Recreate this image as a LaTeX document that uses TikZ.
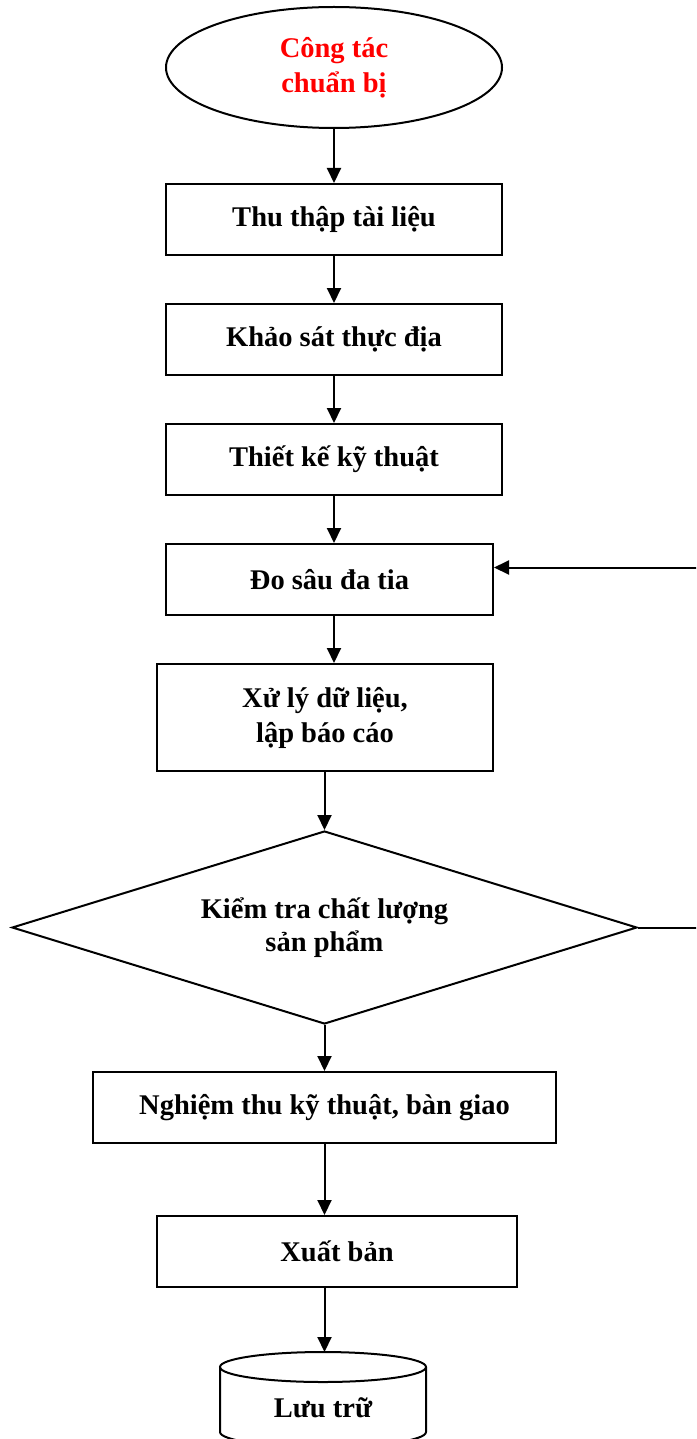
\documentclass[tikz,border=0pt]{standalone}
\usepackage{fontspec}
\setmainfont{Liberation Serif}
\usetikzlibrary{arrows.meta,shapes.geometric}
\tikzset{
  lbl/.style={font=\fontsize{28.5}{35}\selectfont\bfseries, align=center},
  stepbox/.style={draw, lbl, line width=2pt, inner sep=0pt, rectangle},
  flow/.style={line width=2pt, -{Triangle[length=15pt,width=14pt]}},
  plain/.style={line width=2pt}
}
\begin{document}
\begin{tikzpicture}[x=1pt,y=-1pt]
  \useasboundingbox (0,0) rectangle (696,1439);
  \clip (0,0) rectangle (696,1439);

  % start
  \node[draw, ellipse, line width=2pt, inner sep=0pt, minimum width=336, minimum height=121,
        lbl, text=red] (start) at (334,67.5) {Công tác\\chuẩn bị};

  % process steps
  \node[stepbox, minimum width=336, minimum height=71] (s1) at (334,219.5) {Thu thập tài liệu};
  \node[stepbox, minimum width=336, minimum height=71] (s2) at (334,339.5) {Khảo sát thực địa};
  \node[stepbox, minimum width=336, minimum height=71] (s3) at (334,459.5) {Thiết kế kỹ thuật};
  \node[stepbox, minimum width=327, minimum height=71] (s4) at (329.5,579.5) {Đo sâu đa tia};
  \node[stepbox, minimum width=336, minimum height=107] (s5) at (325,717.5) {Xử lý dữ liệu,\\lập báo cáo};

  % quality check
  \node[draw, diamond, aspect=3.24, line width=2pt, inner sep=0pt, minimum width=625,
        minimum height=193, lbl, font=\fontsize{28.5}{33}\selectfont\bfseries] (chk) at (324.5,927.5)
        {Kiểm tra chất lượng\\sản phẩm};

  \node[stepbox, minimum width=463, minimum height=71] (s6) at (324.5,1107.5) {Nghiệm thu kỹ thuật, bàn giao};
  \node[stepbox, minimum width=360, minimum height=71] (s7) at (337,1251.5) {Xuất bản};

  % archive (cylinder)
  \node[lbl, inner sep=0pt, minimum width=206, minimum height=30] (arch) at (323,1408) {Lưu trữ};
  \coordinate (archtop) at (323,1352);
  \draw[plain] (323,1367) ellipse [x radius=103, y radius=15];
  \draw[plain] (220,1367) -- (220,1432) arc[start angle=180, end angle=360, x radius=103, y radius=-15]
               -- (426,1367);

  % connectors
  \draw[flow] (start.south) -- (s1.north);
  \draw[flow] (s1.south) -- (s2.north);
  \draw[flow] (s2.south) -- (s3.north);
  \draw[flow] (s3.south) -- (s3.south |- s4.north);
  \draw[flow] (s4.south -| s3.south) -- (s3.south |- s5.north);
  \draw[flow] (s5.south -| chk.north) -- (chk.north);
  \draw[flow] (chk.south) -- (chk.south |- s6.north);
  \draw[flow] (s6.south -| chk.south) -- (chk.south |- s7.north);
  \draw[flow] (s7.south -| chk.south) -- (archtop -| chk.south);

  % feedback loop
  \coordinate (loopx) at (700,927.5);
  \coordinate (s4in) at ([yshift=12pt]s4.east);
  \draw[flow] (chk.east) -- (chk.east -| loopx) |- (s4in);
\end{tikzpicture}
\end{document}
